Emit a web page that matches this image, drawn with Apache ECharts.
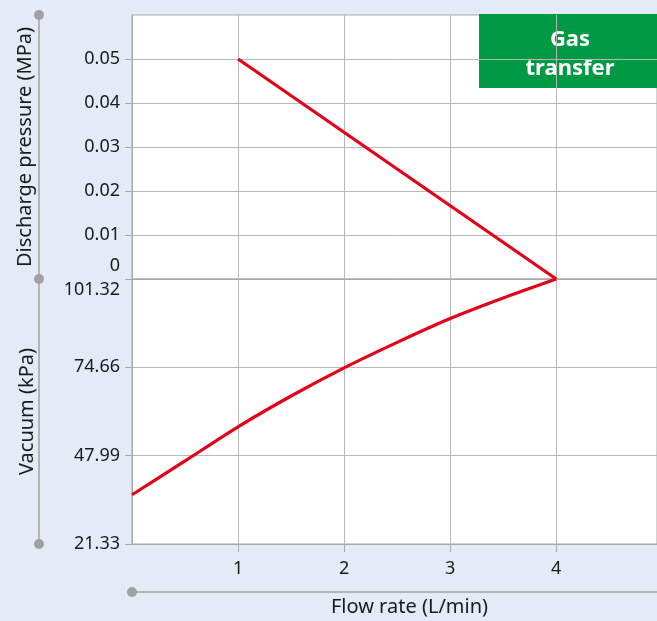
<!DOCTYPE html>
<html><head><meta charset="utf-8">
<script src="https://cdn.jsdelivr.net/npm/echarts@6/dist/echarts.min.js"></script>
<style>html,body{margin:0;padding:0;background:#e4eaf6;}#c{width:657px;height:621px;}</style>
</head><body><div id="c"></div>
<script>
const flowTicks = [1, 2, 3, 4];
const pressureTicks = [0, 0.01, 0.02, 0.03, 0.04, 0.05];
const vacuumTicks = [101.32, 74.66, 47.99, 21.33];
const dischargeFlow = [1, 4];
const dischargeMPa = [0.05, 0];
const vacuumFlow = [0, 0.5, 1, 1.5, 2, 2.5, 3, 3.5, 4];
const vacuumKPa = [36.2, 46.4, 56.7, 66.0, 74.5, 82.2, 89.4, 95.6, 101.32];

const FONT = 'Noto Sans';
const GRID_C = '#b8b8b8';
const AXIS_C = '#a8a8a8';
const TXT = '#1a1a1a';
const RED = '#e2001a';

const chart = echarts.init(document.getElementById('c'), null, {renderer: 'canvas'});
chart.setOption({
  backgroundColor: '#e4eaf6',
  animation: false,
  grid: [
    {left: 132, top: 15, height: 264, right: 0, show: true, backgroundColor: '#fff', borderColor: AXIS_C, borderWidth: 1},
    {left: 132, top: 279, height: 265, right: 0, show: true, backgroundColor: '#fff', borderColor: AXIS_C, borderWidth: 1}
  ],
  xAxis: [
    {gridIndex: 0, type: 'value', min: 0, max: 4.95, interval: 1,
     axisLine: {show: true, lineStyle: {color: AXIS_C}}, axisTick: {show: false}, axisLabel: {show: false},
     splitLine: {show: true, lineStyle: {color: GRID_C}}},
    {gridIndex: 1, type: 'value', min: 0, max: 4.95, interval: 1,
     name: 'Flow rate (L/min)', nameLocation: 'middle', nameGap: 53,
     nameTextStyle: {fontFamily: FONT, fontSize: 20, color: TXT, padding: [0, 0, 0, 30]},
     axisLine: {show: true, lineStyle: {color: AXIS_C}},
     axisTick: {show: true, length: 8, customValues: flowTicks, lineStyle: {color: AXIS_C}},
     axisLabel: {customValues: flowTicks, fontFamily: FONT, fontSize: 18, color: TXT, margin: 16},
     splitLine: {show: true, lineStyle: {color: GRID_C}}}
  ],
  yAxis: [
    {gridIndex: 0, type: 'value', min: 0, max: 0.06, interval: 0.01,
     name: 'Discharge pressure (MPa)', nameLocation: 'middle', nameRotate: 90, nameGap: 97,
     nameTextStyle: {fontFamily: FONT, fontSize: 20, color: TXT},
     axisLine: {show: true, lineStyle: {color: AXIS_C}},
     axisTick: {show: true, length: 7, customValues: pressureTicks, lineStyle: {color: AXIS_C}},
     axisLabel: {customValues: pressureTicks, fontFamily: FONT, fontSize: 18, color: TXT, margin: 12,
       formatter: v => v === 0 ? '{z|0}' : v.toFixed(2),
       rich: {z: {fontFamily: FONT, fontSize: 18, color: TXT, padding: [0, 0, 26, 0]}}},
     splitLine: {show: true, lineStyle: {color: GRID_C}}},
    {gridIndex: 1, type: 'value', min: 21.33, max: 101.32,
     name: 'Vacuum (kPa)', nameLocation: 'middle', nameRotate: 90, nameGap: 95,
     nameTextStyle: {fontFamily: FONT, fontSize: 20, color: TXT},
     axisLine: {show: true, lineStyle: {color: AXIS_C}},
     axisTick: {show: true, length: 7, customValues: vacuumTicks, lineStyle: {color: AXIS_C}},
     axisLabel: {customValues: vacuumTicks, fontFamily: FONT, fontSize: 18, color: TXT, margin: 12,
       formatter: v => Math.abs(v - 101.32) < 1e-6 ? '{t|101.32}' : v.toFixed(2),
       rich: {t: {fontFamily: FONT, fontSize: 18, color: TXT, padding: [22, 0, 0, 0]}}},
     splitLine: {show: true, lineStyle: {color: GRID_C}}}
  ],
  series: [
    {type: 'line', xAxisIndex: 0, yAxisIndex: 0, showSymbol: false, silent: true,
     data: dischargeFlow.map((x, i) => [x, dischargeMPa[i]]),
     lineStyle: {color: RED, width: 3.2}},
    {type: 'line', xAxisIndex: 1, yAxisIndex: 1, showSymbol: false, silent: true, smooth: 0.3,
     data: vacuumFlow.map((x, i) => [x, vacuumKPa[i]]),
     lineStyle: {color: RED, width: 3.2}}
  ],
  graphic: [
    {type: 'line', shape: {x1: 39, y1: 15, x2: 39, y2: 544}, style: {stroke: '#b4b4b4', lineWidth: 2}, silent: true},
    {type: 'circle', shape: {cx: 39, cy: 15, r: 5}, style: {fill: '#a0a0a0'}, silent: true},
    {type: 'circle', shape: {cx: 39, cy: 279, r: 5}, style: {fill: '#a0a0a0'}, silent: true},
    {type: 'circle', shape: {cx: 39, cy: 544, r: 5}, style: {fill: '#a0a0a0'}, silent: true},
    {type: 'line', shape: {x1: 132, y1: 592, x2: 657, y2: 592}, style: {stroke: '#b4b4b4', lineWidth: 2}, silent: true},
    {type: 'circle', shape: {cx: 132, cy: 592, r: 5}, style: {fill: '#a0a0a0'}, silent: true},
    {type: 'rect', shape: {x: 479, y: 14, width: 178, height: 74}, style: {fill: '#009a44'}, silent: true},
    {type: 'text', x: 570, y: 54, style: {text: 'Gas\ntransfer', fill: '#fff', font: 'bold 22px "Noto Sans"', align: 'center', verticalAlign: 'middle', lineHeight: 29}, silent: true}
  ]
});
</script></body></html>
